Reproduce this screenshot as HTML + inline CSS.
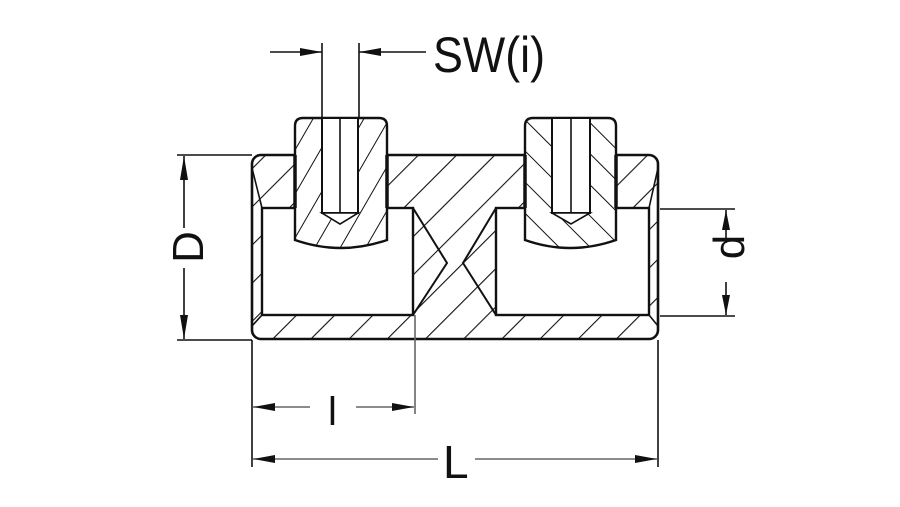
<!DOCTYPE html>
<html><head><meta charset="utf-8"><style>html,body{margin:0;padding:0;background:#fff}svg{display:block}</style></head>
<body>
<svg width="900" height="507" viewBox="0 0 900 507" xmlns="http://www.w3.org/2000/svg">
<defs>
<pattern id="hb" width="27" height="27" patternUnits="userSpaceOnUse" patternTransform="rotate(45)">
<rect width="27" height="27" fill="#fff"/><line x1="0" y1="0" x2="0" y2="27" stroke="#111" stroke-width="2.2"/></pattern>
<pattern id="hs1" width="22" height="22" patternUnits="userSpaceOnUse" patternTransform="rotate(30)">
<rect width="22" height="22" fill="#fff"/><line x1="0" y1="0" x2="0" y2="22" stroke="#111" stroke-width="2"/></pattern>
<pattern id="hs2" width="22" height="22" patternUnits="userSpaceOnUse" patternTransform="rotate(-45)">
<rect width="22" height="22" fill="#fff"/><line x1="0" y1="0" x2="0" y2="22" stroke="#111" stroke-width="2"/></pattern>
</defs>
<g fill="none" stroke="#111" stroke-width="1.6">
<rect x="252" y="155" width="406" height="184" rx="9" fill="url(#hb)" stroke-width="2.6"/>
<rect x="262" y="208" width="151" height="107" fill="#fff" stroke-width="2.4"/>
<rect x="496" y="208" width="153" height="107" fill="#fff" stroke-width="2.4"/>
<polyline points="413,208 447,263 413,315" stroke-width="2"/>
<polyline points="496,208 463,263 496,315" stroke-width="2"/>
<line x1="252" y1="168" x2="262" y2="208"/>
<line x1="252" y1="326" x2="262" y2="315"/>
<line x1="658" y1="168" x2="649" y2="208"/>
<line x1="658" y1="326" x2="649" y2="315"/>
<path d="M295,126 Q295,118 303,118 L379,118 Q387,118 387,126 L387,240 Q341,256 295,240 Z" fill="url(#hs1)" stroke-width="2.4"/>
<rect x="322" y="118" width="36" height="95" fill="#fff" stroke-width="2"/>
<line x1="340" y1="118" x2="340" y2="213"/>
<polygon points="322,213 358,213 340,224" fill="#fff"/>
<path d="M525,126 Q525,118 533,118 L608,118 Q616,118 616,126 L616,240 Q570,256 525,240 Z" fill="url(#hs2)" stroke-width="2.4"/>
<rect x="552" y="118" width="38" height="95" fill="#fff" stroke-width="2"/>
<line x1="571" y1="118" x2="571" y2="213"/>
<polygon points="552,213 590,213 571,224" fill="#fff"/>
<line x1="295" y1="155" x2="295" y2="208" stroke-width="3.5"/>
<line x1="387" y1="155" x2="387" y2="208" stroke-width="3.5"/>
<line x1="525" y1="155" x2="525" y2="208" stroke-width="3.5"/>
<line x1="616" y1="155" x2="616" y2="208" stroke-width="3.5"/>
<line x1="322" y1="43" x2="322" y2="118"/>
<line x1="359" y1="43" x2="359" y2="118"/>
<line x1="270" y1="52" x2="322" y2="52"/>
<line x1="426" y1="52" x2="359" y2="52"/>
<line x1="177" y1="155" x2="252" y2="155"/>
<line x1="177" y1="340" x2="252" y2="340"/>
<line x1="184" y1="228" x2="184" y2="156"/>
<line x1="184" y1="268" x2="184" y2="339"/>
<line x1="660" y1="209" x2="735" y2="209"/>
<line x1="660" y1="316" x2="735" y2="316"/>
<line x1="726" y1="243" x2="726" y2="210"/>
<line x1="726" y1="282" x2="726" y2="315"/>
<line x1="252" y1="340" x2="252" y2="467"/>
<line x1="658" y1="340" x2="658" y2="467"/>
<line x1="415" y1="315" x2="415" y2="414" stroke="#666"/>
<line x1="310" y1="407" x2="253" y2="407" stroke="#666"/>
<line x1="356" y1="407" x2="414" y2="407" stroke="#666"/>
<line x1="438" y1="459" x2="253" y2="459" stroke="#666"/>
<line x1="475" y1="459" x2="657" y2="459" stroke="#666"/>
</g>
<g fill="#111">
<polygon points="322,52 300,48 300,56"/>
<polygon points="359,52 381,48 381,56"/>
<polygon points="184,156 180,180 188,180"/>
<polygon points="184,339 180,315 188,315"/>
<polygon points="726,210 722,230 730,230"/>
<polygon points="726,315 722,295 730,295"/>
<polygon points="253,407 275,403 275,411"/>
<polygon points="414,407 392,403 392,411"/>
<polygon points="253,459 275,455 275,463"/>
<polygon points="657,459 635,455 635,463"/>
</g>
<g font-family="'Liberation Sans', sans-serif" fill="#111">
<text x="433" y="72" font-size="50" textLength="112" lengthAdjust="spacingAndGlyphs">SW(i)</text>
<text x="328" y="425" font-size="40">l</text>
<text x="443" y="478" font-size="46">L</text>
<text transform="translate(203,247) rotate(-90)" font-size="44" text-anchor="middle">D</text>
<text transform="translate(744,247) rotate(-90)" font-size="44" text-anchor="middle">d</text>
</g>
</svg>
</body></html>
